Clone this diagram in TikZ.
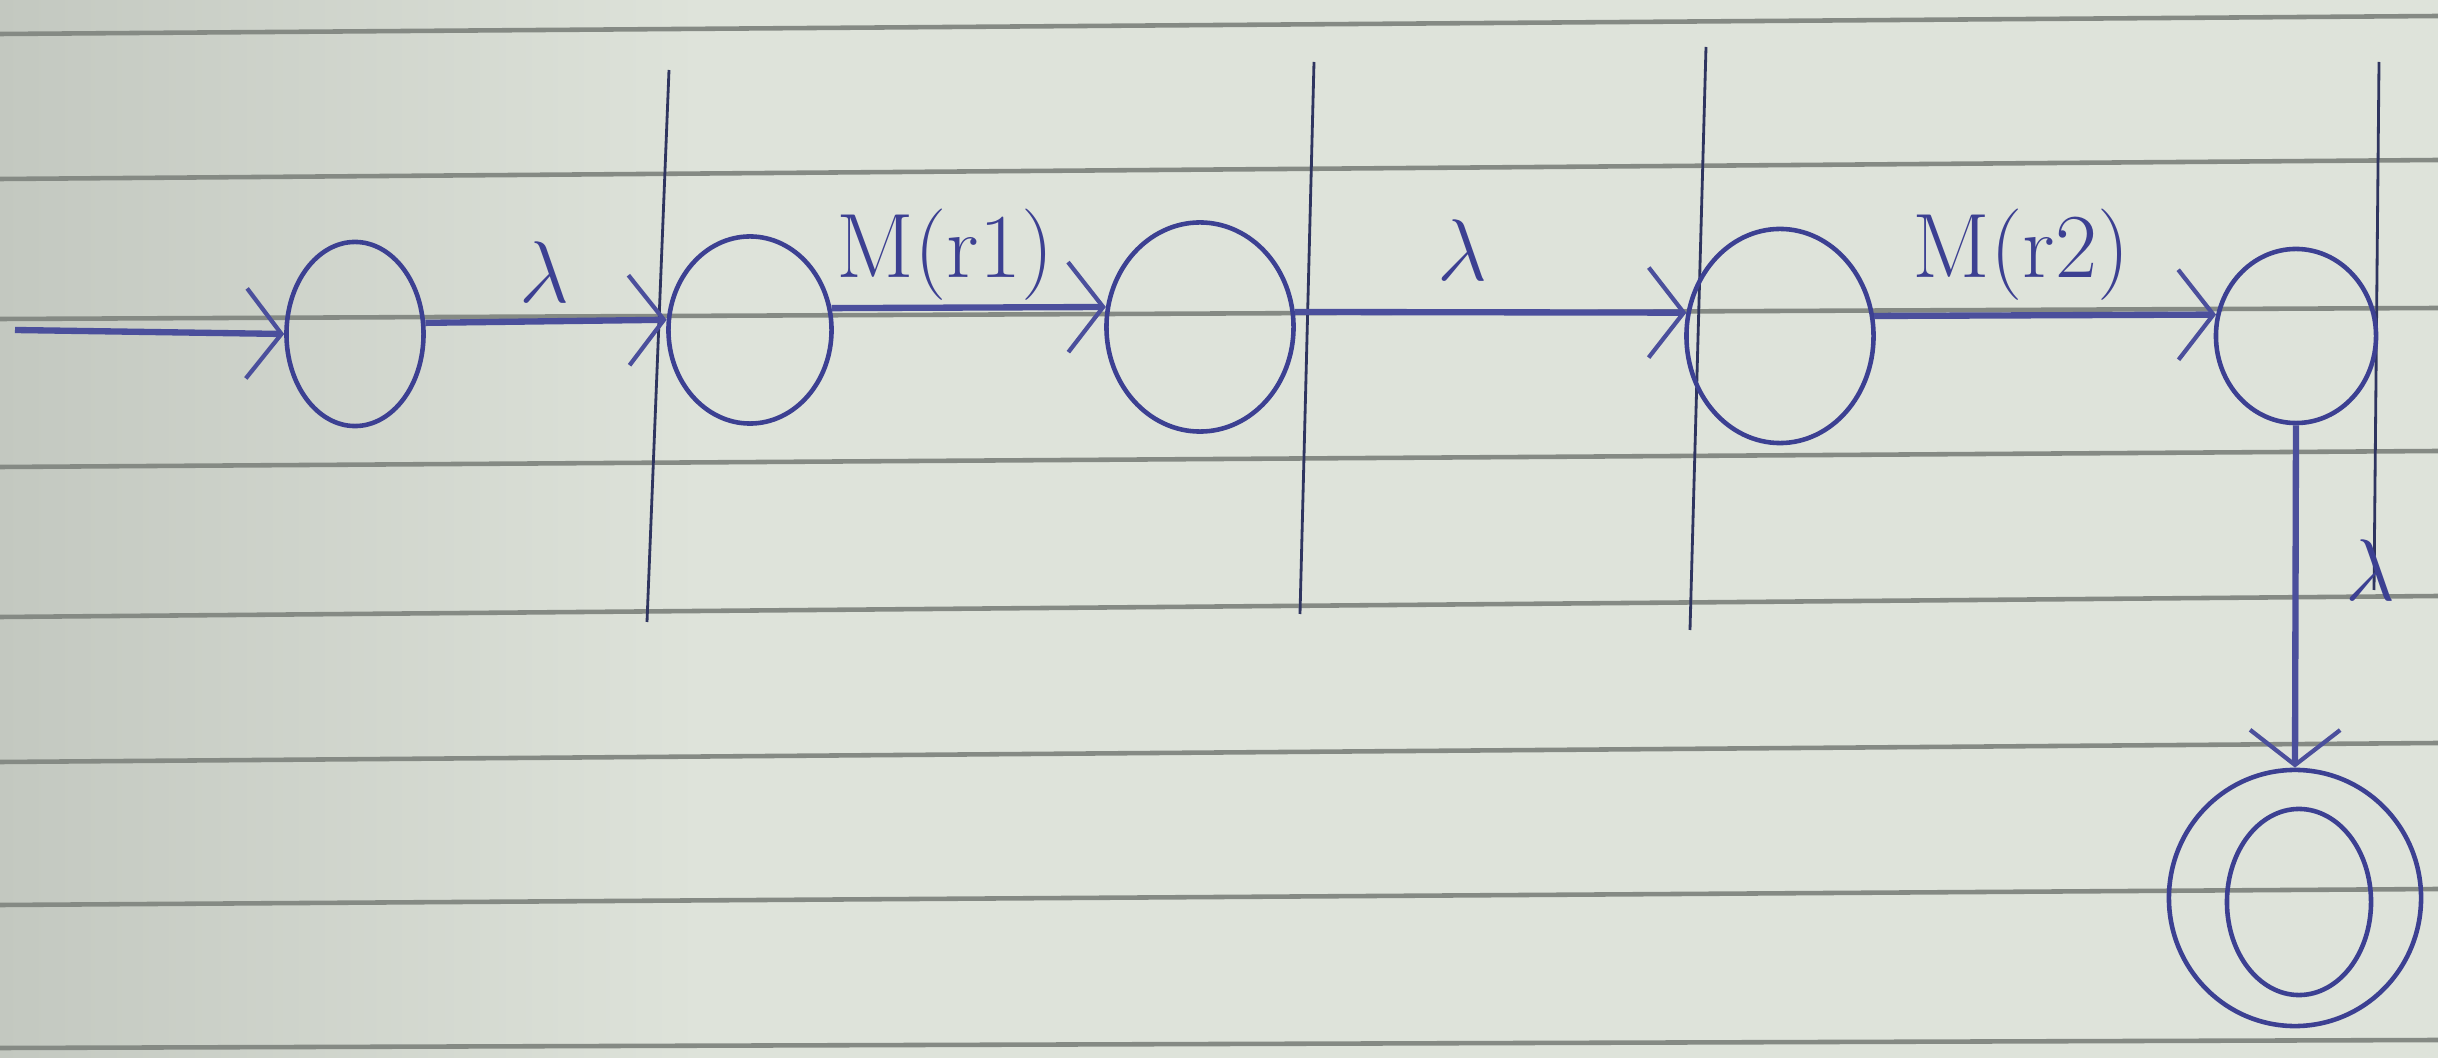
\documentclass[tikz,border=0pt]{standalone}
\usetikzlibrary{shapes.geometric,arrows.meta}
\definecolor{ink}{HTML}{3C4092}
\definecolor{edgeink}{HTML}{4B4F9C}
\definecolor{divcol}{HTML}{2F3560}
\definecolor{paper}{HTML}{DEE3DA}
\definecolor{paperdark}{HTML}{C3C8C0}
\definecolor{rulecol}{HTML}{858A84}
\begin{document}
\begin{tikzpicture}[x=0.01cm,y=-0.01cm,
  state/.style={ellipse, draw=ink, line width=1.3pt, inner sep=0pt},
  trans/.style={draw=edgeink, line width=1.8pt, -{Straight Barb[length=3.5mm,width=9mm,line width=1.2pt]}},
  lbl/.style={text=ink, font=\fontsize{26}{30}\selectfont},
  lam/.style={text=ink, font=\fontsize{31}{34}\selectfont},
  divider/.style={draw=divcol, line width=0.8pt},
  paperrule/.style={draw=rulecol, line width=1.3pt}]
% paper
\fill[paper] (0,0) rectangle (2438,1058);
\shade[left color=paperdark, right color=paper] (0,0) rectangle (700,1058);
\useasboundingbox (0,0) rectangle (2438,1058);
% ruled lines
\foreach \l/\r in {34/16, 179/160, 319/308, 467/451, 617/596, 762/743, 905/889, 1048/1040}
  \draw[paperrule] (0,\l) -- (2438,\r);
% dividers
\draw[divider] (669,70) -- (647,622);
\draw[divider] (1314,62) -- (1300,614);
\draw[divider] (1706,47) -- (1690,630);
\draw[divider] (2379,62) -- (2374,590);
% states
\node[state, minimum width=1.37cm, minimum height=1.84cm] (s1) at (355,334) {};
\node[state, minimum width=1.63cm, minimum height=1.87cm] (s2) at (750,330) {};
\node[state, minimum width=1.87cm, minimum height=2.09cm] (s3) at (1200,327) {};
\node[state, minimum width=1.87cm, minimum height=2.14cm] (s4) at (1780,336) {};
\node[state, minimum width=1.60cm, minimum height=1.74cm] (s5) at (2296,336) {};
\node[state, minimum width=2.52cm, minimum height=2.56cm] (f) at (2295,898) {};
\node[state, minimum width=1.44cm, minimum height=1.86cm] (fin) at (2299,902) {};
% transitions
\coordinate (start) at (15,330);
\draw[trans] (start) -- (s1.west);
\draw[trans] (s1.9) -- (s2.173);
\draw[trans] (s2.15) -- (s3.168);
\draw[trans] (s3.9) -- (s4.166);
\draw[trans] (s4.12) -- (s5.165);
\draw[trans] (s5.south) -- (f.north);
% labels
\node[lam] (l1) at (544,272) {$\lambda$};
\node[lbl] (l2) at (945,255) {M(r1)};
\node[lam] (l3) at (1462,250) {$\lambda$};
\node[lbl] (l4) at (2021,255) {M(r2)};
\node[lam] (l5) at (2370,570) {$\lambda$};
\end{tikzpicture}
\end{document}
